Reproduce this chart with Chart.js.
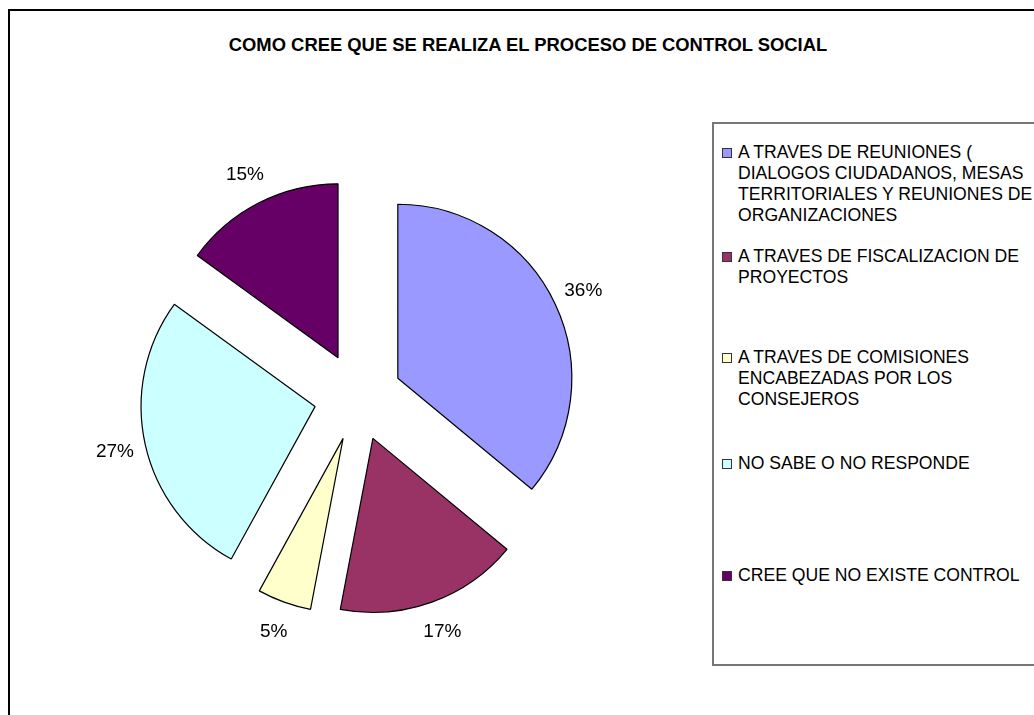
<!DOCTYPE html>
<html>
<head>
<meta charset="utf-8">
<script src="https://cdn.jsdelivr.net/npm/chart.js@4.4.1/dist/chart.umd.min.js"></script>
<style>
  html, body { margin: 0; padding: 0; background: #fff; overflow: hidden; }
  body { width: 1034px; height: 715px; position: relative; font-family: "Liberation Sans", Arial, sans-serif; }
  #frame { position: absolute; left: 8px; top: 9px; width: 1100px; height: 800px; border: 2px solid #000; box-sizing: border-box; }
  #title { position: absolute; left: 0; width: 1056px; top: 34px; text-align: center; font-weight: bold; font-size: 18.4px; color: #000; }
  #chartBox { position: absolute; left: 58px; top: 97px; width: 600px; height: 600px; }
  #legend { position: absolute; left: 712px; top: 122px; width: 400px; height: 544px; border: 2px solid #777; box-sizing: border-box; }
  .item { position: absolute; left: 8px; font-size: 17.6px; line-height: 21px; color: #000; white-space: nowrap; }
  .mk { position: absolute; left: 0; top: 6px; width: 8px; height: 8px; border: 1px solid #333; }
  .txt { position: absolute; left: 16px; top: 0; }
</style>
</head>
<body>
<div id="frame"></div>
<div id="title">COMO CREE QUE SE REALIZA EL PROCESO DE CONTROL SOCIAL</div>
<div id="chartBox"><canvas id="c" width="600" height="600"></canvas></div>
<div id="legend"></div>
<script>
// ---- data ----
const chartTitle = "COMO CREE QUE SE REALIZA EL PROCESO DE CONTROL SOCIAL";
const categories = [
  ["A TRAVES DE REUNIONES (", "DIALOGOS CIUDADANOS, MESAS", "TERRITORIALES Y REUNIONES DE", "ORGANIZACIONES"],
  ["A TRAVES DE FISCALIZACION DE", "PROYECTOS"],
  ["A TRAVES DE COMISIONES", "ENCABEZADAS POR LOS", "CONSEJEROS"],
  ["NO SABE O NO RESPONDE"],
  ["CREE QUE NO EXISTE CONTROL"]
];
const values = [36, 17, 5, 27, 15];
const colors = ["#9999FF", "#993366", "#FFFFCC", "#CCFFFF", "#660066"];

// ---- layout constants ----
const EXPLODE = 44;
const RADIUS = 174;
const LABEL_GAP = 31;
const legendTops = [18, 122, 223, 329, 441];

// legend (HTML)
const legendEl = document.getElementById('legend');
categories.forEach((lines, i) => {
  const it = document.createElement('div');
  it.className = 'item';
  it.style.top = legendTops[i] + 'px';
  const mk = document.createElement('div');
  mk.className = 'mk';
  mk.style.background = colors[i];
  const tx = document.createElement('div');
  tx.className = 'txt';
  tx.innerHTML = lines.map(l => l.replace(/&/g,'&amp;').replace(/</g,'&lt;')).join('<br>');
  it.appendChild(mk); it.appendChild(tx);
  legendEl.appendChild(it);
});

const explodePlugin = {
  id: 'explode',
  beforeDatasetDraw(chart, args) {
    const ctx = chart.ctx;
    args.meta.data.forEach(arc => {
      const mid = (arc.startAngle + arc.endAngle) / 2;
      ctx.save();
      ctx.translate(Math.cos(mid) * EXPLODE, Math.sin(mid) * EXPLODE);
      arc.draw(ctx);
      ctx.restore();
    });
    return false;
  },
  afterDatasetsDraw(chart) {
    const ctx = chart.ctx;
    const meta = chart.getDatasetMeta(0);
    ctx.save();
    ctx.font = '19px "Liberation Sans", Arial, sans-serif';
    ctx.fillStyle = '#000';
    ctx.textAlign = 'center';
    ctx.textBaseline = 'middle';
    meta.data.forEach((arc, i) => {
      const mid = (arc.startAngle + arc.endAngle) / 2;
      const d = EXPLODE + arc.outerRadius + LABEL_GAP;
      ctx.fillText(chart.data.datasets[0].data[i] + '%', arc.x + Math.cos(mid) * d, arc.y + Math.sin(mid) * d);
    });
    ctx.restore();
  }
};

new Chart(document.getElementById('c'), {
  type: 'pie',
  data: {
    labels: categories,
    datasets: [{
      data: values,
      backgroundColor: colors,
      borderColor: '#000',
      borderWidth: 1.2,
      radius: RADIUS
    }]
  },
  options: {
    responsive: false,
    devicePixelRatio: 1,
    animation: false,
    events: [],
    layout: { padding: 0 },
    plugins: { legend: { display: false }, title: { display: false }, tooltip: { enabled: false } }
  },
  plugins: [explodePlugin]
});
</script>
</body>
</html>
